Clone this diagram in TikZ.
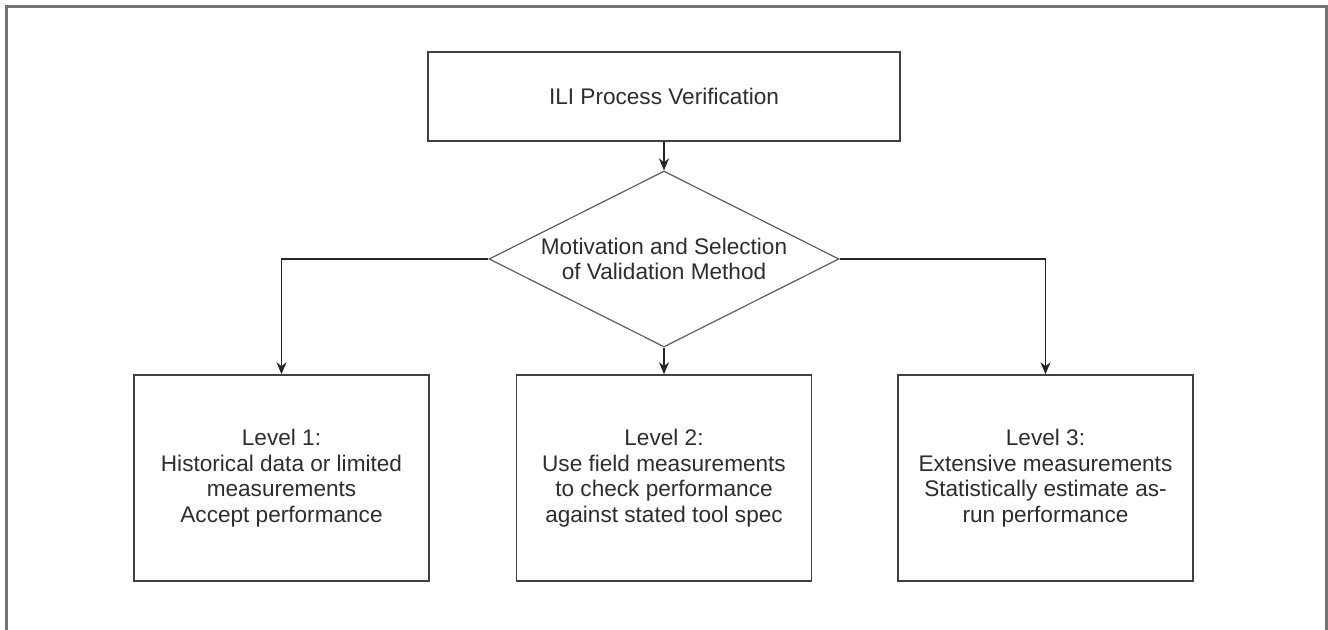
\documentclass[tikz,border=0pt]{standalone}
\usepackage{fontspec}
\setmainfont{Liberation Sans}
\usepackage{tikz}
\usetikzlibrary{shapes.geometric, arrows.meta}
\definecolor{framegray}{RGB}{112,114,116}
\definecolor{boxline}{RGB}{64,64,64}
\definecolor{txtgray}{RGB}{45,45,45}

\begin{document}
\begin{tikzpicture}[
  x=0.5pt, y=-0.5pt,
  bx/.style={rectangle, draw=boxline, line width=0.8pt, align=center,
    text=txtgray, font=\fontsize{11.3}{12.75}\selectfont},
  lv/.style={bx, minimum width=147.5pt, minimum height=103pt},
  dm/.style={diamond, aspect=2, draw=boxline!85, line width=0.6pt, align=center,
    minimum width=175pt, minimum height=88pt, inner sep=0pt,
    text=txtgray, font=\fontsize{11.3}{12.75}\selectfont},
  ar/.style={-{Stealth[length=6pt,width=5pt]}, line width=0.65pt, black!85}
]
  \useasboundingbox (0,0) rectangle (1328,630);
  \draw[framegray, line width=1.5pt] (6,630) -- (6,7) -- (1326,7) -- (1326,630);

  \node[bx, minimum width=236pt, minimum height=44.5pt] (ili) at (664,96.5) {ILI Process Verification};
  \node[dm] (mot) at (664,259) {Motivation and Selection\\of Validation Method};
  \node[lv] (l1) at (281.5,478) {Level 1:\\Historical data or limited\\measurements\\Accept performance};
  \node[lv] (l2) at (664,478) {Level 2:\\Use field measurements\\to check performance\\against stated tool spec};
  \node[lv] (l3) at (1045.5,478) {Level 3:\\Extensive measurements\\Statistically estimate as-\\run performance};

  \draw[ar] (ili) -- (mot);
  \draw[ar] (mot) -- (l2);
  \draw[ar] (mot.west) -| (l1.north);
  \draw[ar] (mot.east) -| (l3.north);
\end{tikzpicture}
\end{document}
